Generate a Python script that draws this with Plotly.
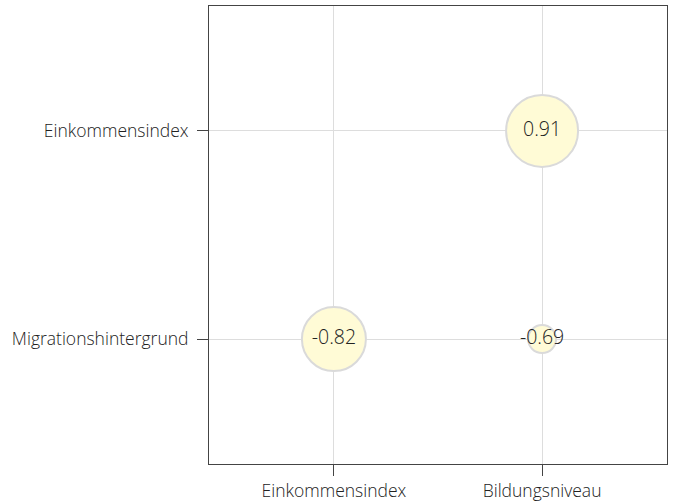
import plotly.graph_objects as go

x_categories = ["Einkommensindex", "Bildungsniveau"]
y_categories = ["Migrationshintergrund", "Einkommensindex"]

point_x = ["Bildungsniveau", "Einkommensindex", "Bildungsniveau"]
point_y = ["Einkommensindex", "Migrationshintergrund", "Migrationshintergrund"]
correlations = [0.91, -0.82, -0.69]

# marker diameters (style) for each bubble
marker_diameters = [72, 64, 28]

font_family = "Open Sans, sans-serif"

fig = go.Figure(
    go.Scatter(
        x=point_x,
        y=point_y,
        mode="markers+text",
        text=[f"{v:.2f}" for v in correlations],
        textposition="middle center",
        textfont=dict(family=font_family, size=19.5, color="#222222", weight=300),
        marker=dict(
            size=marker_diameters,
            color="#FFFBD6",
            opacity=1,
            line=dict(color="#DADADA", width=2),
        ),
        hoverinfo="text",
        cliponaxis=False,
    )
)

axis_common = dict(
    type="category",
    showline=True,
    linecolor="#444444",
    linewidth=1,
    mirror=True,
    showgrid=True,
    gridcolor="#DDDDDD",
    gridwidth=1,
    ticks="outside",
    ticklen=11,
    tickcolor="#444444",
    tickfont=dict(family=font_family, size=17.5, color="#222222", weight=300),
    zeroline=False,
    range=[-0.6, 1.6],
)

fig.update_xaxes(categoryorder="array", categoryarray=x_categories, **axis_common)
fig.update_yaxes(categoryorder="array", categoryarray=y_categories,
                 ticklabelstandoff=5, **axis_common)

fig.update_layout(
    width=676,
    height=501,
    margin=dict(l=209, r=9, t=6, b=37, autoexpand=False),
    plot_bgcolor="white",
    paper_bgcolor="white",
    showlegend=False,
    font=dict(family=font_family, color="#222222"),
)

fig.write_html(
    "out.html",
    config={"displayModeBar": False},
    post_script="document.body.style.margin='0';document.body.style.padding='0';",
)
